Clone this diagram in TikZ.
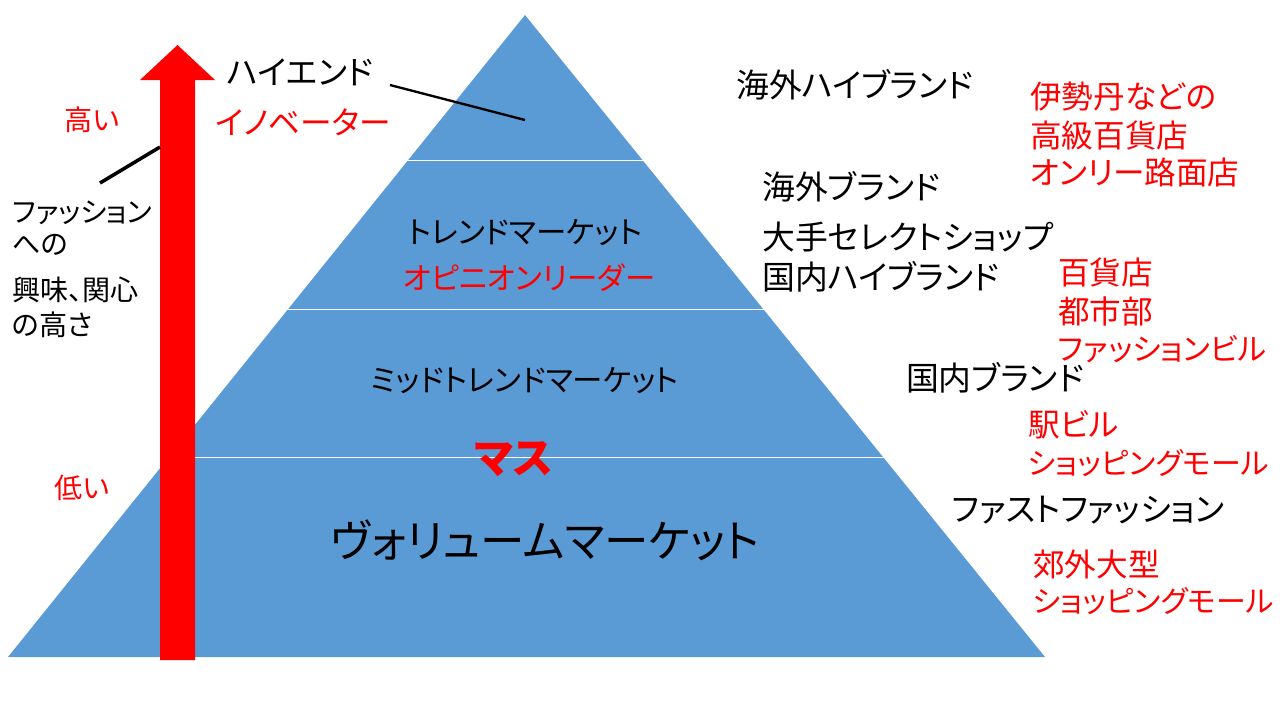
\documentclass[tikz,border=0pt]{standalone}
\usepackage{fontspec}
\setmainfont[RawFeature=+palt]{Noto Sans CJK JP}
\usetikzlibrary{positioning}
\definecolor{pyr}{HTML}{5B9BD5}
\newcommand\fsz[1]{\fontsize{#1pt}{#1pt}\selectfont}
\tikzset{
  lbl/.style={inner sep=0pt,font=\fsz{27}},
  redlbl/.style={lbl,text=red},
  sidelbl/.style={lbl,anchor=west,align=left},
}
\begin{document}
\begin{tikzpicture}[x=0.03cm,y=-0.03cm]
  \useasboundingbox (0,0) rectangle (1280,720);
  % pyramid
  \fill[pyr] (525,15) -- (1045,657) -- (8,657) -- cycle;
  \foreach \yy/\xl/\xr in {160/406/644, 309/286/765, 457/166/885}
    \draw[white,line width=0.8pt] (\xl,\yy) -- (\xr,\yy);
  % arrow
  \fill[red] (160,660) -- (195,660) -- (195,80) -- (215,80) -- (177.5,45)
    -- (140,80) -- (160,80) -- cycle;
  % levels
  \node[lbl,font=\fsz{28}] (high) at (300,72) {ハイエンド};
  \node[redlbl] (inno) at (303,122) {イノベーター};
  \coordinate (hightip) at (525,120);
  \draw[line width=2pt] (390,85) -- (hightip);
  \node[lbl,font=\fsz{26}] (trend) at (525,233) {トレンドマーケット};
  \node[redlbl,font=\fsz{26}] (opin) at (529,278) {オピニオンリーダー};
  \node[lbl,font=\fsz{26}] (mid) at (525,381) {ミッドトレンドマーケット};
  \node[redlbl,font=\bfseries\fsz{36}] (mass) at (514,459) {マス};
  \node[lbl,font=\fsz{38}] (vol) at (545,540) {ヴォリュームマーケット};
  % left axis
  \node[redlbl,font=\fsz{24}] (up) at (92,120) {高い};
  \node[redlbl,font=\fsz{24}] (down) at (82,488) {低い};
  \node[sidelbl,font=\fsz{24}] (axis1) at (12,213) {ファッション};
  \node[sidelbl,font=\fsz{24}] (axis2) at (12,245) {への};
  \node[sidelbl,font=\fsz{24}] (axis3) at (12,290) {興味、関心};
  \node[sidelbl,font=\fsz{24}] (axis4) at (12,325) {の高さ};
  \draw[line width=3pt] (100,183) -- (160,147);
  % brands
  \node[lbl,font=\fsz{28}] (b1) at (855,85) {海外ハイブランド};
  \node[sidelbl,text=red] (s1a) at (1030,97) {伊勢丹などの};
  \node[sidelbl,text=red] (s1b) at (1030,135) {高級百貨店};
  \node[sidelbl,text=red] (s1c) at (1030,172) {オンリー路面店};
  \node[sidelbl,font=\fsz{28}] (b2a) at (762,187) {海外ブランド};
  \node[sidelbl,font=\fsz{28}] (b2b) at (762,237) {大手セレクトショップ};
  \node[sidelbl,font=\fsz{28}] (b2c) at (762,277) {国内ハイブランド};
  \node[sidelbl,text=red] (s2a) at (1058,272) {百貨店};
  \node[sidelbl,text=red] (s2b) at (1058,311) {都市部};
  \node[sidelbl,text=red,font=\fsz{26}] (s2c) at (1058,349) {ファッションビル};
  \node[lbl,font=\fsz{28}] (b3) at (995,378) {国内ブランド};
  \node[sidelbl,text=red] (s3a) at (1028,425) {駅ビル};
  \node[sidelbl,text=red,font=\fsz{25.5}] (s3b) at (1028,463) {ショッピングモール};
  \node[lbl,font=\fsz{28}] (b4) at (1088,510) {ファストファッション};
  \node[sidelbl,text=red] (s4a) at (1033,564) {郊外大型};
  \node[sidelbl,text=red,font=\fsz{25.5}] (s4b) at (1033,601) {ショッピングモール};
\end{tikzpicture}
\end{document}
